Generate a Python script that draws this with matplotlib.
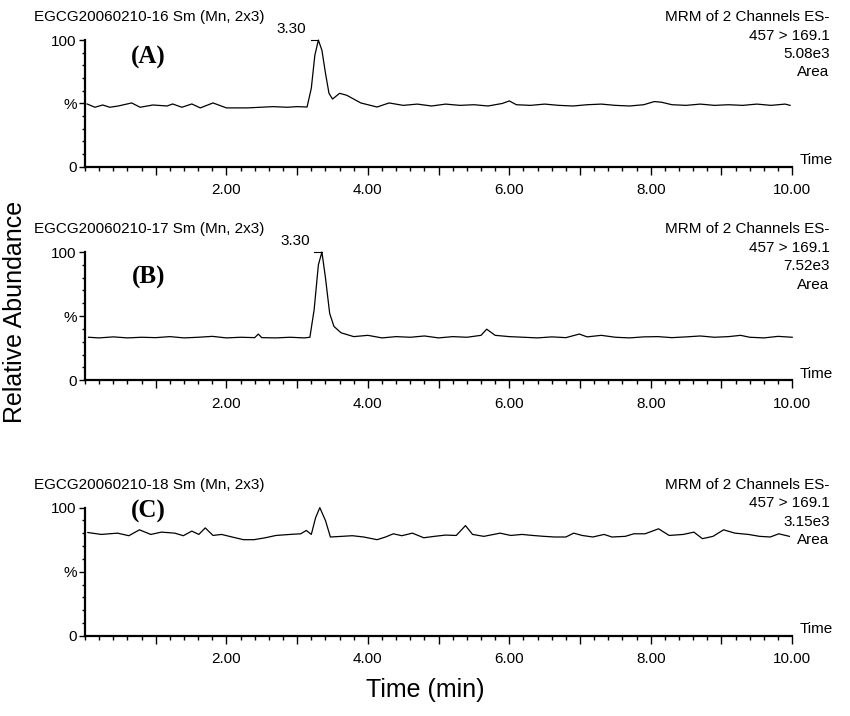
import matplotlib
matplotlib.use("Agg")
import matplotlib.pyplot as plt
from matplotlib.ticker import MultipleLocator, FixedLocator

# chromatogram traces, (time in min, relative abundance in %)
trace_a = [(0.03, 49.6), (0.14, 47.0), (0.25, 48.8), (0.35, 47.0), (0.47, 48.0), (0.66, 50.4),
           (0.78, 47.0), (0.96, 48.8), (1.16, 48.0), (1.24, 49.6), (1.37, 47.0), (1.51, 49.6),
           (1.63, 46.5), (1.81, 50.4), (2.0, 46.5), (2.3, 46.5), (2.66, 47.5), (2.86, 47.0),
           (3.0, 47.5), (3.14, 47.2), (3.20, 62.0), (3.25, 88.0), (3.30, 100.0), (3.35, 92.0),
           (3.40, 74.0), (3.45, 58.0), (3.50, 53.5), (3.6, 58.0), (3.7, 56.5), (3.9, 50.4),
           (4.13, 47.2), (4.3, 50.4), (4.5, 48.5), (4.7, 49.5), (4.9, 48.0), (5.1, 49.5),
           (5.3, 48.5), (5.5, 49.0), (5.7, 48.0), (5.9, 50.0), (6.0, 52.0), (6.1, 49.0),
           (6.3, 48.5), (6.5, 49.5), (6.7, 48.5), (6.9, 48.0), (7.1, 49.0), (7.3, 49.5),
           (7.5, 48.5), (7.7, 48.0), (7.9, 49.0), (8.05, 51.5), (8.15, 51.0), (8.3, 49.0),
           (8.5, 48.5), (8.7, 49.5), (8.9, 48.5), (9.1, 49.0), (9.3, 48.5), (9.5, 49.5),
           (9.7, 48.5), (9.9, 49.5), (9.97, 48.5)]

trace_b = [(0.05, 33.5), (0.2, 33.0), (0.4, 33.8), (0.6, 33.0), (0.8, 33.5), (1.0, 33.2),
           (1.2, 34.0), (1.4, 33.0), (1.6, 33.5), (1.8, 34.2), (2.0, 33.0), (2.2, 33.5),
           (2.4, 33.2), (2.45, 36.0), (2.5, 33.2), (2.7, 33.0), (2.9, 33.5), (3.1, 33.0),
           (3.18, 33.5), (3.24, 55.0), (3.30, 90.0), (3.35, 100.0), (3.40, 80.0), (3.46, 52.0),
           (3.52, 42.0), (3.62, 37.0), (3.8, 34.0), (4.0, 35.0), (4.2, 33.0), (4.4, 34.0),
           (4.6, 33.5), (4.8, 34.5), (5.0, 33.0), (5.2, 34.0), (5.4, 33.5), (5.6, 35.0),
           (5.68, 39.8), (5.8, 35.0), (6.0, 34.0), (6.2, 33.5), (6.4, 33.0), (6.6, 33.8),
           (6.8, 33.2), (6.99, 36.0), (7.1, 33.8), (7.3, 35.0), (7.5, 33.5), (7.7, 33.0),
           (7.9, 33.8), (8.1, 34.0), (8.3, 33.2), (8.5, 33.8), (8.7, 34.5), (8.9, 33.5),
           (9.1, 34.0), (9.27, 35.0), (9.4, 33.5), (9.6, 33.0), (9.8, 34.2), (10.0, 33.5)]

trace_c = [(0.04, 80.6), (0.23, 79.1), (0.46, 80.1), (0.62, 78.1), (0.77, 82.7), (0.93, 79.1),
           (1.08, 80.9), (1.27, 80.1), (1.39, 78.1), (1.51, 81.7), (1.61, 79.1), (1.70, 84.2),
           (1.81, 78.3), (1.93, 79.1), (2.08, 77.1), (2.24, 75.0), (2.39, 75.0), (2.55, 76.5),
           (2.70, 78.3), (2.90, 79.1), (3.05, 79.6), (3.13, 82.2), (3.20, 79.1), (3.26, 92.0),
           (3.32, 100.0), (3.40, 90.0), (3.47, 77.1), (3.63, 77.6), (3.78, 78.1), (3.94, 77.1),
           (4.13, 75.0), (4.25, 77.1), (4.36, 79.6), (4.48, 78.1), (4.63, 80.1), (4.79, 76.5),
           (4.94, 77.6), (5.10, 78.6), (5.25, 78.3), (5.38, 86.0), (5.48, 79.1), (5.64, 77.6),
           (5.87, 80.1), (6.02, 78.3), (6.18, 79.1), (6.33, 78.3), (6.49, 77.6), (6.64, 77.1),
           (6.80, 77.1), (6.91, 80.1), (7.03, 78.3), (7.18, 77.1), (7.34, 79.1), (7.45, 77.1),
           (7.64, 77.6), (7.76, 79.6), (7.92, 79.6), (8.11, 83.5), (8.26, 78.3), (8.46, 79.1),
           (8.61, 80.9), (8.73, 75.8), (8.88, 77.6), (9.03, 82.7), (9.19, 80.1), (9.38, 79.1),
           (9.54, 77.6), (9.69, 77.1), (9.81, 79.6), (9.96, 77.6)]

traces = [trace_a, trace_b, trace_c]
sample_names = ["EGCG20060210-16 Sm (Mn, 2x3)", "EGCG20060210-17 Sm (Mn, 2x3)", "EGCG20060210-18 Sm (Mn, 2x3)"]
panel_labels = ["(A)", "(B)", "(C)"]
areas = ["5.08e3", "7.52e3", "3.15e3"]
peak_labels = ["3.30", "3.30", None]
x_ticks = [2, 4, 6, 8, 10]

fig = plt.figure(figsize=(8.5, 7.16), dpi=100)
plt.rcParams["font.family"] = ["Liberation Sans", "DejaVu Sans"]

# axes boxes in figure fraction (left, bottom, width, height)
boxes = [(0.1, 0.767, 0.832, 0.177),
         (0.1, 0.469, 0.832, 0.179),
         (0.1, 0.112, 0.832, 0.179)]
label_y = [0.86, 0.80, 0.97]

for i in range(3):
    ax = fig.add_axes(boxes[i])
    t = [p[0] for p in traces[i]]
    y = [p[1] for p in traces[i]]
    ax.plot(t, y, color="black", lw=0.9, clip_on=False)
    ax.set_xlim(0, 10)
    ax.set_ylim(0, 100)

    for s in ["top", "right"]:
        ax.spines[s].set_visible(False)
    ax.spines["left"].set_linewidth(1.6)
    ax.spines["bottom"].set_linewidth(1.6)

    ax.set_yticks([0, 50, 100])
    ax.set_yticklabels(["0", "%", "100"], fontsize=11)
    ax.yaxis.set_minor_locator(MultipleLocator(10))
    ax.xaxis.set_major_locator(FixedLocator(list(range(1, 11))))
    ax.set_xticklabels(["%.2f" % v if v in x_ticks else "" for v in range(1, 11)], fontsize=11)
    ax.xaxis.set_minor_locator(MultipleLocator(0.2))
    ax.tick_params(which="major", axis="x", length=6, width=1, pad=6)
    ax.tick_params(which="minor", axis="x", length=3, width=1)
    ax.tick_params(which="major", axis="y", length=4, width=1, pad=2)
    ax.tick_params(which="minor", axis="y", length=2.5, width=1)

    ax.text(1.01, 0.05, "Time", transform=ax.transAxes, fontsize=11, va="center", ha="left")
    ax.text(-0.072, 1.18, sample_names[i], transform=ax.transAxes, fontsize=11, va="center", ha="left")
    ax.text(0.09, label_y[i], panel_labels[i], transform=ax.transAxes, fontsize=18, fontweight="bold",
            family="Liberation Serif", va="center", ha="center")

    right_lines = ["MRM of 2 Channels ES-", "457 > 169.1", areas[i], "Area"]
    for k, line in enumerate(right_lines):
        ax.text(1.053, 1.18 - k * 0.145, line, transform=ax.transAxes, fontsize=11,
                va="center", ha="right")

    if peak_labels[i]:
        pk = max(traces[i], key=lambda p: p[1])
        ax.plot([pk[0] - 0.11, pk[0]], [100, 100], color="black", lw=0.8, clip_on=False)
        ax.text(pk[0] - 0.17, 103, peak_labels[i], fontsize=11, ha="right", va="bottom")

fig.text(0.018, 0.565, "Relative Abundance", rotation=90, fontsize=18, va="center", ha="center")
fig.text(0.5, 0.036, "Time (min)", fontsize=18, va="center", ha="center")

plt.savefig("out.png", dpi=100)
